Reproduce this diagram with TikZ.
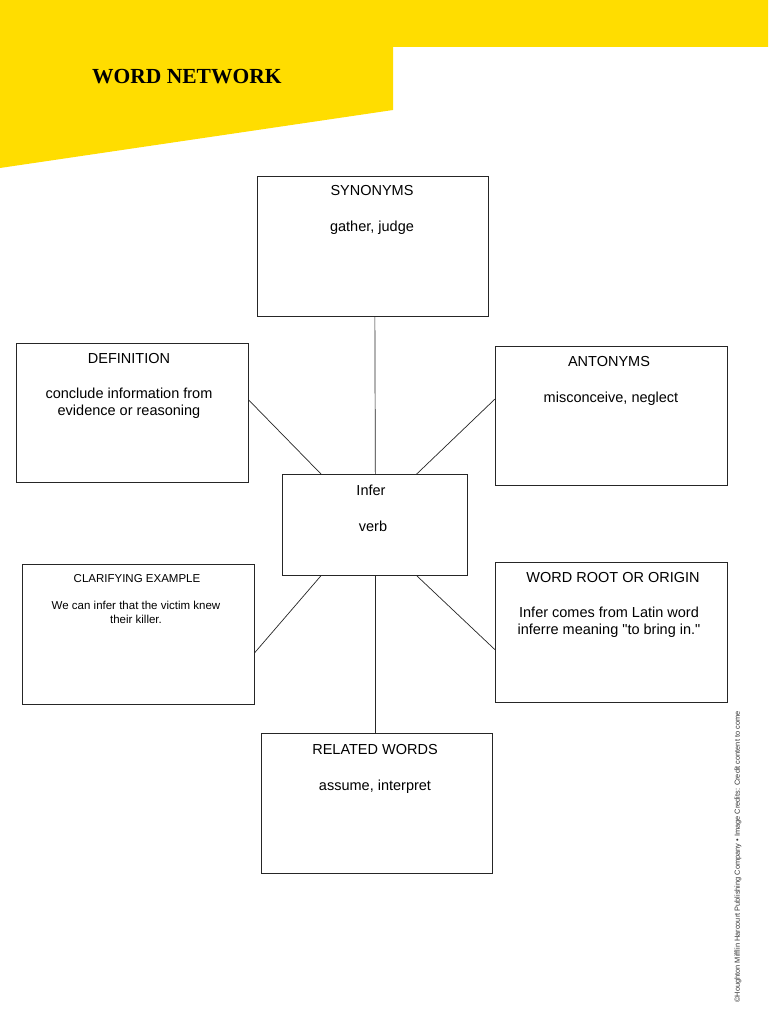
\documentclass[tikz,border=0pt]{standalone}
\usepackage{fontspec}
\setmainfont{Liberation Sans}[Ligatures=TeXOff]
\newfontfamily\titlefont{Liberation Serif}
\definecolor{hmhyellow}{HTML}{FFDD00}
\begin{document}
\begin{tikzpicture}[x=1pt,y=-1pt,
  box/.style={draw=black!85,line width=0.7pt},
  txt/.style={anchor=north,align=center,font=\fontsize{14.5}{17}\selectfont,inner sep=0pt},
  link/.style={draw=black!85,line width=0.7pt}]
\useasboundingbox (0,0) rectangle (768,1024);
\fill[white] (0,0) rectangle (768,1024);
\fill[hmhyellow] (0,0) -- (768,0) -- (768,47) -- (393,47) -- (393,110) -- (0,168) -- cycle;
\node[anchor=west,inner sep=0pt,font=\titlefont\bfseries\fontsize{21.5}{24}\selectfont] (title) at (92,77) {WORD NETWORK};
\node[box,minimum width=231,minimum height=140,anchor=north west] (syn) at (257,176) {};
\node[box,minimum width=232,minimum height=139,anchor=north west] (def) at (16,343) {};
\node[box,minimum width=232,minimum height=139,anchor=north west] (ant) at (495,346) {};
\node[box,minimum width=185,minimum height=101,anchor=north west] (inf) at (282,474) {};
\node[box,minimum width=232,minimum height=140,anchor=north west] (cla) at (22,564) {};
\node[box,minimum width=232,minimum height=140,anchor=north west] (root) at (495,562) {};
\node[box,minimum width=231,minimum height=140,anchor=north west] (rel) at (261,733) {};
\node[txt] (t1) at (372,185) {SYNONYMS};
\node[txt] (t2) at (372,221) {gather, judge};
\node[txt] (t3) at (129,353) {DEFINITION};
\node[txt] (t4) at (129,388) {conclude information from\\evidence or reasoning};
\node[txt] (t5) at (609,356) {ANTONYMS};
\node[txt] (t6) at (611,392) {misconceive, neglect};
\node[txt] (t7) at (371,485) {Infer};
\node[txt] (t8) at (373,521) {verb};
\node[txt,font=\fontsize{11.5}{14}\selectfont] (t9) at (137,574) {CLARIFYING EXAMPLE};
\node[txt,font=\fontsize{11.5}{14}\selectfont] (t10) at (136,601) {We can infer that the victim knew\\their killer.};
\node[txt] (t11) at (613,572) {WORD ROOT OR ORIGIN};
\node[txt] (t12) at (609,607) {Infer comes from Latin word\\inferre meaning "to bring in."};
\node[txt] (t13) at (375,744) {RELATED WORDS};
\node[txt] (t14) at (375,780) {assume, interpret};
\draw[link] ([xshift=2pt]syn.south) -- ([xshift=0.5pt]inf.north);
\draw[link] ([yshift=-57pt]def.north east) -- ([xshift=39pt]inf.north west);
\draw[link] ([yshift=-53pt]ant.north west) -- ([xshift=-51pt]inf.north east);
\draw[link] ([xshift=39pt]inf.south west) -- ([yshift=52pt]cla.south east);
\draw[link] ([xshift=-51pt]inf.south east) -- ([yshift=53pt]root.south west);
\draw[link] ([xshift=0.5pt]inf.south) -- ([xshift=-1.5pt]rel.north);
\node[rotate=90,inner sep=0pt,font=\fontsize{7.4}{8}\selectfont,text=black!80] (credit) at (738,857) {©Houghton Mifflin Harcourt Publishing Company • Image Credits: Credit content to come};
\end{tikzpicture}
\end{document}
